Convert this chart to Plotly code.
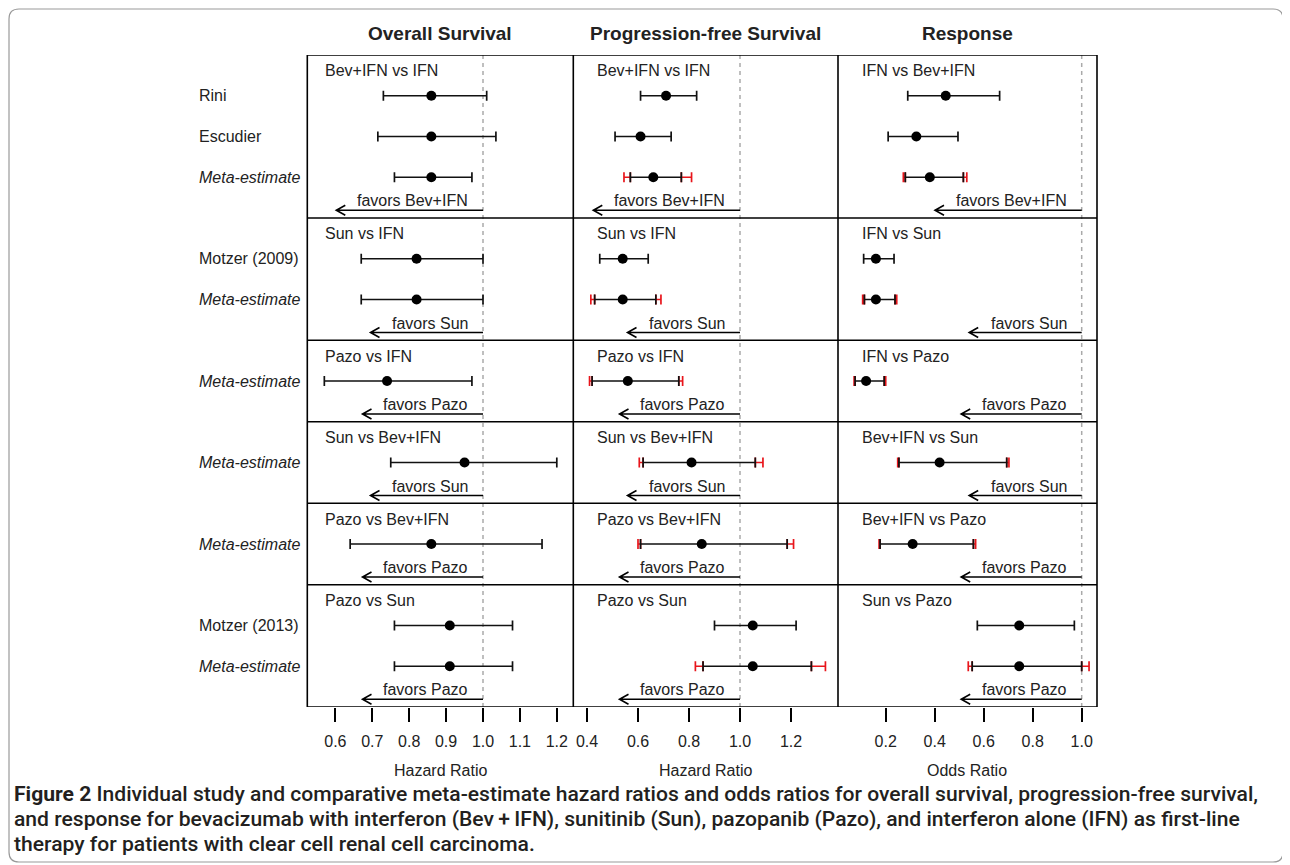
import plotly.graph_objects as go

W, H = 1290, 865

# ---------------- data ----------------
col_titles = ["Overall Survival", "Progression-free Survival", "Response"]
axis_titles = ["Hazard Ratio", "Hazard Ratio", "Odds Ratio"]
ticks_os = [0.6, 0.7, 0.8, 0.9, 1.0, 1.1, 1.2]
ticks_pfs = [0.4, 0.6, 0.8, 1.0, 1.2]
ticks_resp = [0.2, 0.4, 0.6, 0.8, 1.0]

headers_hr = ["Bev+IFN vs IFN", "Sun vs IFN", "Pazo vs IFN",
              "Sun vs Bev+IFN", "Pazo vs Bev+IFN", "Pazo vs Sun"]
headers_or = ["IFN vs Bev+IFN", "IFN vs Sun", "IFN vs Pazo",
              "Bev+IFN vs Sun", "Bev+IFN vs Pazo", "Sun vs Pazo"]
favors = ["favors Bev+IFN", "favors Sun", "favors Pazo",
          "favors Sun", "favors Pazo", "favors Pazo"]
block_studies = [["Rini", "Escudier", "Meta-estimate"],
                 ["Motzer (2009)", "Meta-estimate"],
                 ["Meta-estimate"],
                 ["Meta-estimate"],
                 ["Meta-estimate"],
                 ["Motzer (2013)", "Meta-estimate"]]

# Overall survival (hazard ratio)
os_est = [0.86, 0.86, 0.86, 0.82, 0.82, 0.74, 0.95, 0.86, 0.91, 0.91]
os_lo = [0.73, 0.715, 0.76, 0.67, 0.67, 0.57, 0.75, 0.64, 0.76, 0.76]
os_hi = [1.01, 1.035, 0.97, 1.00, 1.00, 0.97, 1.20, 1.16, 1.08, 1.08]
os_rlo = [None] * 10
os_rhi = [None] * 10

# Progression-free survival (hazard ratio)
pfs_est = [0.71, 0.61, 0.66, 0.54, 0.54, 0.56, 0.81, 0.85, 1.05, 1.05]
pfs_lo = [0.61, 0.51, 0.57, 0.45, 0.43, 0.42, 0.62, 0.61, 0.90, 0.855]
pfs_hi = [0.83, 0.73, 0.77, 0.64, 0.67, 0.76, 1.06, 1.185, 1.22, 1.28]
pfs_rlo = [None, None, 0.545, None, 0.415, 0.41, 0.605, 0.60, None, 0.825]
pfs_rhi = [None, None, 0.81, None, 0.69, 0.775, 1.09, 1.21, None, 1.335]

# Response (odds ratio)
resp_est = [0.445, 0.325, 0.38, 0.16, 0.16, 0.12, 0.42, 0.31, 0.745, 0.745]
resp_lo = [0.29, 0.21, 0.28, 0.11, 0.113, 0.075, 0.254, 0.177, 0.574, 0.553]
resp_hi = [0.665, 0.495, 0.517, 0.234, 0.238, 0.194, 0.694, 0.558, 0.97, 1.0]
resp_rlo = [None, None, 0.272, None, 0.106, 0.071, 0.249, 0.173, None, 0.537]
resp_rhi = [None, None, 0.531, None, 0.245, 0.20, 0.703, 0.567, None, 1.03]

caption_lines = [
    "<b>Figure 2</b> Individual study and comparative meta-estimate hazard ratios and odds ratios for overall survival, progression-free survival,",
    "and response for bevacizumab with interferon (Bev\u2009+\u2009IFN), sunitinib (Sun), pazopanib (Pazo), and interferon alone (IFN) as first-line",
    "therapy for patients with clear cell renal cell carcinoma.",
]

# ---------------- layout geometry (pixels, page coordinates) ----------------
OFF = 8  # default page body margin in the browser
FONT = "Liberation Sans, Arial, sans-serif"
CAP_FONT = "Roboto, Liberation Sans, Arial, sans-serif"
TXT = "#222222"
LW = 1.6
TOP, BOT = 55.0, 707.0
col_px = [(307.3, 573.3), (573.3, 838.0), (838.0, 1097.0)]
col_ref = [(483.0, 369.0), (740.0, 255.0), (1081.7, 245.0)]  # px of 1.0, px per unit
header_off = [16, 22, 22]

n_slots = sum(len(b) + 1 for b in block_studies)


def px(x):
    return (x - OFF) / W


def py(y):
    return 1 - (y - OFF) / H


# y positions (slot units, reversed axis)
block_top = []
item_y = []
t = 0
for b in block_studies:
    block_top.append(t)
    for k in range(len(b)):
        item_y.append(t + k + 1)
    t += len(b) + 1
block_bot = [bt + len(b) + 1 for bt, b in zip(block_top, block_studies)]

CW = {'f': .278, 'a': .556, 'v': .5, 'o': .556, 'r': .333, 's': .5, ' ': .278,
      'B': .667, 'e': .556, '+': .584, 'I': .278, 'F': .611, 'N': .722,
      'S': .667, 'u': .556, 'n': .556, 'P': .667, 'z': .5}


def text_w(s, size=16):
    return sum(CW.get(c, .556) for c in s) * size


columns = [
    dict(est=os_est, lo=os_lo, hi=os_hi, rlo=os_rlo, rhi=os_rhi, ticks=ticks_os, headers=headers_hr),
    dict(est=pfs_est, lo=pfs_lo, hi=pfs_hi, rlo=pfs_rlo, rhi=pfs_rhi, ticks=ticks_pfs, headers=headers_hr),
    dict(est=resp_est, lo=resp_lo, hi=resp_hi, rlo=resp_rlo, rhi=resp_rhi, ticks=ticks_resp, headers=headers_or),
]

fig = go.Figure()
shapes = []
annotations = []
layout_axes = {}

for ci, col in enumerate(columns):
    sfx = "" if ci == 0 else str(ci + 1)
    xa, ya = "x" + sfx, "y" + sfx
    l, r = col_px[ci]
    one, scale = col_ref[ci]
    xr = [1 - (one - l) / scale, 1 + (r - one) / scale]

    # red extensions (beyond the black interval) for meta-estimates
    idx = [i for i, v in enumerate(col["rlo"]) if v is not None]
    if idx:
        rx_ = [col["lo"][i] for i in idx] + [col["hi"][i] for i in idx]
        ry_ = [item_y[i] for i in idx] * 2
        plus = [0.0] * len(idx) + [col["rhi"][i] - col["hi"][i] for i in idx]
        minus = [col["lo"][i] - col["rlo"][i] for i in idx] + [0.0] * len(idx)
        fig.add_trace(go.Scatter(
            x=rx_, y=ry_, mode="markers", marker=dict(size=1, color="rgba(0,0,0,0)"),
            error_x=dict(type="data", symmetric=False, array=plus, arrayminus=minus,
                         color="#e8151b", thickness=1.7, width=5),
            xaxis=xa, yaxis=ya, showlegend=False, hoverinfo="skip"))
    # black confidence interval + point
    fig.add_trace(go.Scatter(
        x=col["est"], y=item_y, mode="markers",
        marker=dict(size=10, color="black", symbol="circle"),
        error_x=dict(type="data", symmetric=False,
                     array=[h - e for h, e in zip(col["hi"], col["est"])],
                     arrayminus=[e - lo for e, lo in zip(col["est"], col["lo"])],
                     color="#111111", thickness=1.7, width=5),
        xaxis=xa, yaxis=ya, showlegend=False))

    layout_axes["xaxis" + sfx] = dict(
        domain=[px(l), px(r)], range=xr, anchor=ya, showline=False,
        ticks="outside", ticklen=14, tickwidth=1.5, tickcolor="black",
        tickvals=col["ticks"], ticktext=[f"{v:.1f}" for v in col["ticks"]],
        tickfont=dict(size=16, color=TXT, family=FONT), ticklabelstandoff=6,
        showgrid=False, zeroline=False, fixedrange=True)
    layout_axes["yaxis" + sfx] = dict(
        domain=[py(BOT), py(TOP)], range=[n_slots, 0], anchor=xa, showline=False,
        showticklabels=False, ticks="", showgrid=False, zeroline=False,
        fixedrange=True)

    # reference line at 1.0
    shapes.append(dict(type="line", xref=xa, yref="paper", x0=1.0, x1=1.0,
                       y0=py(BOT), y1=py(TOP),
                       line=dict(color="#aaaaaa", width=1.5, dash="4px,4px"), layer="below"))

    for bi, b in enumerate(block_studies):
        # header
        annotations.append(dict(text=col["headers"][bi], xref="paper", yref=ya,
                                x=px(l + header_off[ci]), y=block_top[bi] + 0.39,
                                xanchor="left", yanchor="middle", showarrow=False,
                                font=dict(size=16, color=TXT, family=FONT)))
        # favors text
        annotations.append(dict(text=favors[bi], xref=xa, yref=ya, x=1.0, xshift=-13,
                                y=block_bot[bi] - 0.42, xanchor="right", yanchor="middle",
                                showarrow=False, font=dict(size=16, color=TXT, family=FONT)))
        # arrow
        L = text_w(favors[bi]) + 36
        shapes.append(dict(type="path", xref=xa, yref=ya, xsizemode="pixel", ysizemode="pixel",
                           xanchor=1.0, yanchor=block_bot[bi] - 0.19,
                           path=f"M 0,0 L {-L:.1f},0 M {-L + 9:.1f},-5 L {-L:.1f},0 L {-L + 9:.1f},5",
                           line=dict(color="black", width=LW)))

    # column title
    annotations.append(dict(text=f"<b>{col_titles[ci]}</b>", xref="paper", yref="paper",
                            x=px((l + r) / 2), y=py(33), xanchor="center", yanchor="middle",
                            showarrow=False, font=dict(size=19, color=TXT, family=FONT)))
    # axis title
    annotations.append(dict(text=axis_titles[ci], xref="paper", yref="paper",
                            x=px((l + r) / 2), y=py(770), xanchor="center", yanchor="middle",
                            showarrow=False, font=dict(size=16, color=TXT, family=FONT)))

# panel borders: row separators, top/bottom and column separators
for yb in [0] + block_bot:
    shapes.append(dict(type="line", xref="paper", yref="y",
                       x0=px(col_px[0][0]), x1=px(col_px[2][1]), y0=yb, y1=yb,
                       line=dict(color="black", width=LW)))
for xb in [col_px[0][0], col_px[1][0], col_px[2][0], col_px[2][1]]:
    shapes.append(dict(type="line", xref="paper", yref="paper",
                       x0=px(xb), x1=px(xb), y0=py(BOT), y1=py(TOP),
                       line=dict(color="black", width=LW)))

# study labels on the left
flat_labels = [s for b in block_studies for s in b]
for lab, yv in zip(flat_labels, item_y):
    txt = f"<i>{lab}</i>" if lab == "Meta-estimate" else lab
    annotations.append(dict(text=txt, xref="paper", yref="y", x=px(197), y=yv,
                            xanchor="left", yanchor="middle", showarrow=False,
                            font=dict(size=16, color=TXT, family=FONT)))

# caption
for i, line in enumerate(caption_lines):
    annotations.append(dict(text=line, xref="paper", yref="paper", x=px(12), y=py(793 + 25 * i),
                            xanchor="left", yanchor="middle", showarrow=False,
                            font=dict(size=21.1, color="#231f20", family=CAP_FONT, weight=500)))

# outer rounded frame
x0, y0, x1, y1, rr = px(9), py(9), px(1283), py(862), 10
rx, ry = rr / W, rr / H
frame = (f"M {x0 + rx},{y0} L {x1 - rx},{y0} Q {x1},{y0} {x1},{y0 - ry} "
         f"L {x1},{y1 + ry} Q {x1},{y1} {x1 - rx},{y1} L {x0 + rx},{y1} "
         f"Q {x0},{y1} {x0},{y1 + ry} L {x0},{y0 - ry} Q {x0},{y0} {x0 + rx},{y0} Z")
shapes.append(dict(type="path", xref="paper", yref="paper", path=frame,
                   line=dict(color="#9a9a9a", width=1.2)))

fig.update_layout(
    width=W, height=H, margin=dict(l=0, r=0, t=0, b=0),
    paper_bgcolor="white", plot_bgcolor="white",
    font=dict(family=FONT, color=TXT),
    shapes=shapes, annotations=annotations, showlegend=False,
    **layout_axes)

fig.write_html("out.html")
